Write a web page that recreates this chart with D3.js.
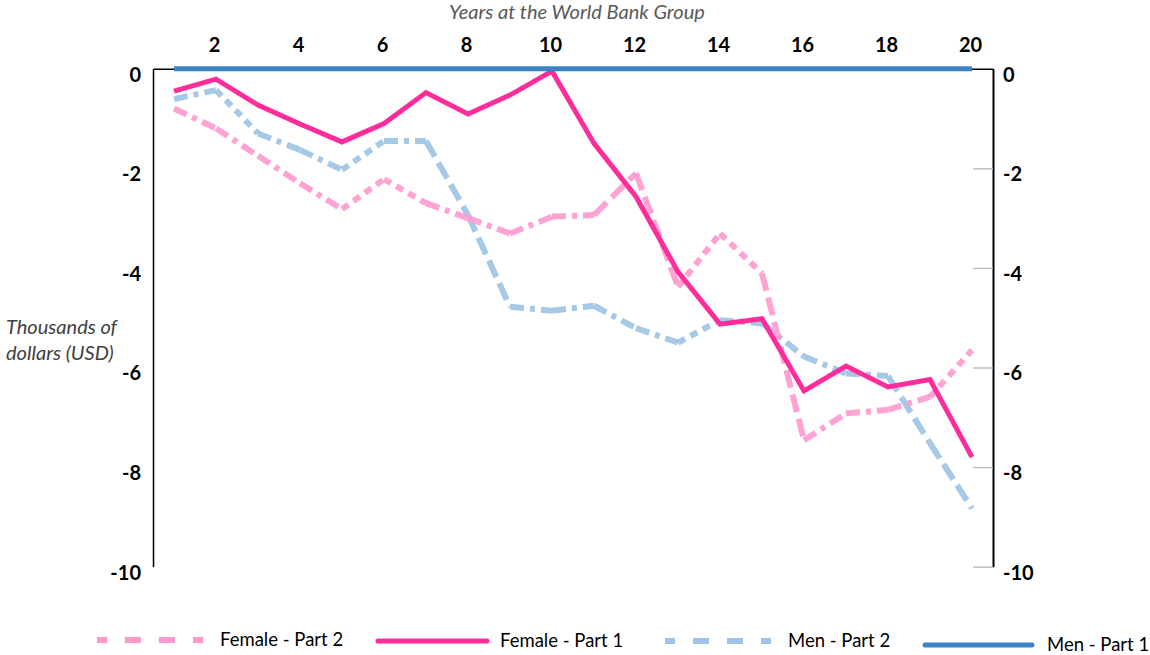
<!DOCTYPE html>
<html>
<head>
<meta charset="utf-8">
<script src="https://cdn.jsdelivr.net/npm/d3@7"></script>
<style>
  body { margin: 0; background: #fff; }
  #graphContainer { width: 1150px; height: 655px; }
</style>
</head>
<body>
<div id="graphContainer"></div>
<script>
// categories (years at the World Bank Group)
const years = [1, 2, 3, 4, 5, 6, 7, 8, 9, 10, 11, 12, 13, 14, 15, 16, 17, 18, 19, 20];
const xTickLabels = [2, 4, 6, 8, 10, 12, 14, 16, 18, 20];
const yTickLabels = [0, -2, -4, -6, -8, -10];

// series values, thousands of USD
const femalePart2 = [-0.80, -1.20, -1.75, -2.30, -2.82, -2.22, -2.70, -3.00, -3.31, -2.97, -2.94, -2.10, -4.38, -3.31, -4.11, -7.46, -6.92, -6.85, -6.59, -5.65];
const femalePart1 = [-0.45, -0.21, -0.73, -1.11, -1.47, -1.10, -0.48, -0.91, -0.53, -0.05, -1.50, -2.57, -4.08, -5.13, -5.02, -6.47, -5.97, -6.39, -6.24, -7.80];
const menPart2 = [-0.61, -0.43, -1.30, -1.63, -2.03, -1.45, -1.45, -2.94, -4.78, -4.86, -4.76, -5.21, -5.50, -5.05, -5.11, -5.78, -6.12, -6.17, -7.52, -8.83];
const menPart1 = [0, 0, 0, 0, 0, 0, 0, 0, 0, 0, 0, 0, 0, 0, 0, 0, 0, 0, 0, 0];

// line style of each segment (the original mixes dash types along a series)
const femalePart2Segments = ["dd", "dd", "dd", "dd", "dash", "dash", "dd", "dd", "dd", "dd", "long", "long", "dash", "dash", "long", "dd", "dd", "dd", "dash"];
const menPart2Segments = ["dd", "dash", "dd", "dd", "dash", "dd", "long", "long", "dd", "dd", "dd", "dd", "dash", "dd", "dd", "dd", "dd", "long", "long"];

const dashPatterns = { solid: null, dd: "14,6,5,6", dash: "8,6", long: "18,7" };

let svg, x, y;

function initializeChart() {
    svg = d3.select("#graphContainer").append("svg")
        .attr("width", 1150)
        .attr("height", 655)
        .style("font-family", "Lato, 'Open Sans', sans-serif");

    x = d3.scaleLinear().domain([0.5, 20.5]).range([153, 993]);
    y = d3.scaleLinear().domain([0, -10]).range([68.7, 566.7]);

    const plain = d => String(d);  // keep the hyphen minus like the original

    // right axis with light grey ticks pointing inward
    const rightAxis = svg.append("g")
        .attr("transform", `translate(${x(20.5)},0)`)
        .call(d3.axisRight(y).tickValues(yTickLabels).tickFormat(plain).tickSize(-20).tickSizeOuter(0).tickPadding(10));
    rightAxis.selectAll(".tick line").attr("stroke", "#bfbfbf").attr("stroke-width", 1.5);
    rightAxis.select(".domain").attr("stroke", "#000").attr("stroke-width", 2);

    const leftAxis = svg.append("g")
        .attr("transform", `translate(${x(0.5)},0)`)
        .call(d3.axisLeft(y).tickValues(yTickLabels).tickFormat(plain).tickSize(0).tickPadding(12));
    leftAxis.select(".domain").attr("stroke", "#000").attr("stroke-width", 1.5);

    const topAxis = svg.append("g")
        .attr("transform", `translate(0,${y(0)})`)
        .call(d3.axisTop(x).tickValues(xTickLabels).tickFormat(plain).tickSize(0).tickPadding(17));
    topAxis.select(".domain").attr("stroke", "#000").attr("stroke-width", 1.5);

    [rightAxis, leftAxis, topAxis].forEach(a => {
        a.selectAll(".tick text")
            .attr("fill", "#000")
            .style("font-size", "20px")
            .style("font-weight", "bold")
            .style("font-family", "Lato, sans-serif");
    });
    rightAxis.selectAll(".tick text").attr("dy", "0.62em");
    leftAxis.selectAll(".tick text").attr("dy", "0.62em");
    topAxis.selectAll(".tick text").attr("dx", "-0.1em");
    rightAxis.selectAll(".tick").filter(d => d === 0).select("line").remove();

    // axis titles
    svg.append("text")
        .attr("x", 577)
        .attr("y", 19)
        .attr("text-anchor", "middle")
        .attr("fill", "#595959")
        .style("font-style", "italic")
        .style("font-size", "20px")
        .text("Years at the World Bank Group");

    const yTitle = svg.append("text")
        .attr("fill", "#404040")
        .style("font-style", "italic")
        .style("font-size", "20px");
    yTitle.append("tspan").attr("x", 6).attr("y", 334).text("Thousands of");
    yTitle.append("tspan").attr("x", 6).attr("y", 360).text("dollars (USD)");
}

function drawSegments(values, segments, color, width) {
    const line = d3.line().x(d => x(d.year)).y(d => y(d.value));
    const pts = years.map((yr, i) => ({ year: yr, value: values[i] }));
    segments.forEach((s, i) => {
        svg.append("path")
            .datum([pts[i], pts[i + 1]])
            .attr("d", line)
            .attr("fill", "none")
            .attr("stroke", color)
            .attr("stroke-width", width)
            .attr("stroke-dasharray", dashPatterns[s])
            .attr("stroke-opacity", 0.9);
    });
}

function drawLine(values, color, width) {
    const line = d3.line().x((d, i) => x(years[i])).y(d => y(d));
    svg.append("path")
        .datum(values)
        .attr("d", line)
        .attr("fill", "none")
        .attr("stroke", color)
        .attr("stroke-width", width)
        .attr("stroke-linejoin", "miter");
}

function drawLegend() {
    const items = [
        { name: "Female - Part 2", color: "#ff99cf", dash: "16,18", x0: 97, x1: 203, y: 640, w: 6, gap: 17 },
        { name: "Female - Part 1", color: "#ff2d9b", dash: null, x0: 378, x1: 487, y: 641, w: 5, gap: 13 },
        { name: "Men - Part 2", color: "#9dc3e6", dash: "16,18", x0: 665, x1: 771, y: 641, w: 6, gap: 17 },
        { name: "Men - Part 1", color: "#3b85c6", dash: null, x0: 925, x1: 1032, y: 645, w: 5, gap: 15 }
    ];
    const legend = svg.append("g").attr("class", "legend");
    legend.selectAll("line")
        .data(items)
        .enter()
        .append("line")
        .attr("x1", d => d.x0)
        .attr("x2", d => d.x1)
        .attr("y1", d => d.y)
        .attr("y2", d => d.y)
        .attr("stroke", d => d.color)
        .attr("stroke-width", d => d.w)
        .attr("stroke-dasharray", d => d.dash)
        .attr("stroke-dashoffset", d => d.dash ? 6 : null)
        .attr("stroke-linecap", d => d.dash ? "butt" : "round");
    legend.selectAll("text")
        .data(items)
        .enter()
        .append("text")
        .attr("x", d => d.x1 + d.gap)
        .attr("y", d => d.y + 6)
        .attr("fill", "#000")
        .style("font-size", "18.5px")
        .text(d => d.name);
}

function drawChart() {
    drawSegments(menPart2, menPart2Segments, "#9dc3e6", 6);
    drawSegments(femalePart2, femalePart2Segments, "#ff99cf", 6);
    drawLine(femalePart1, "#ff2d9b", 5);
    drawLine(menPart1, "#3b85c6", 5);
    drawLegend();
}

document.addEventListener("DOMContentLoaded", () => {
    initializeChart();
    drawChart();
});
</script>
</body>
</html>
